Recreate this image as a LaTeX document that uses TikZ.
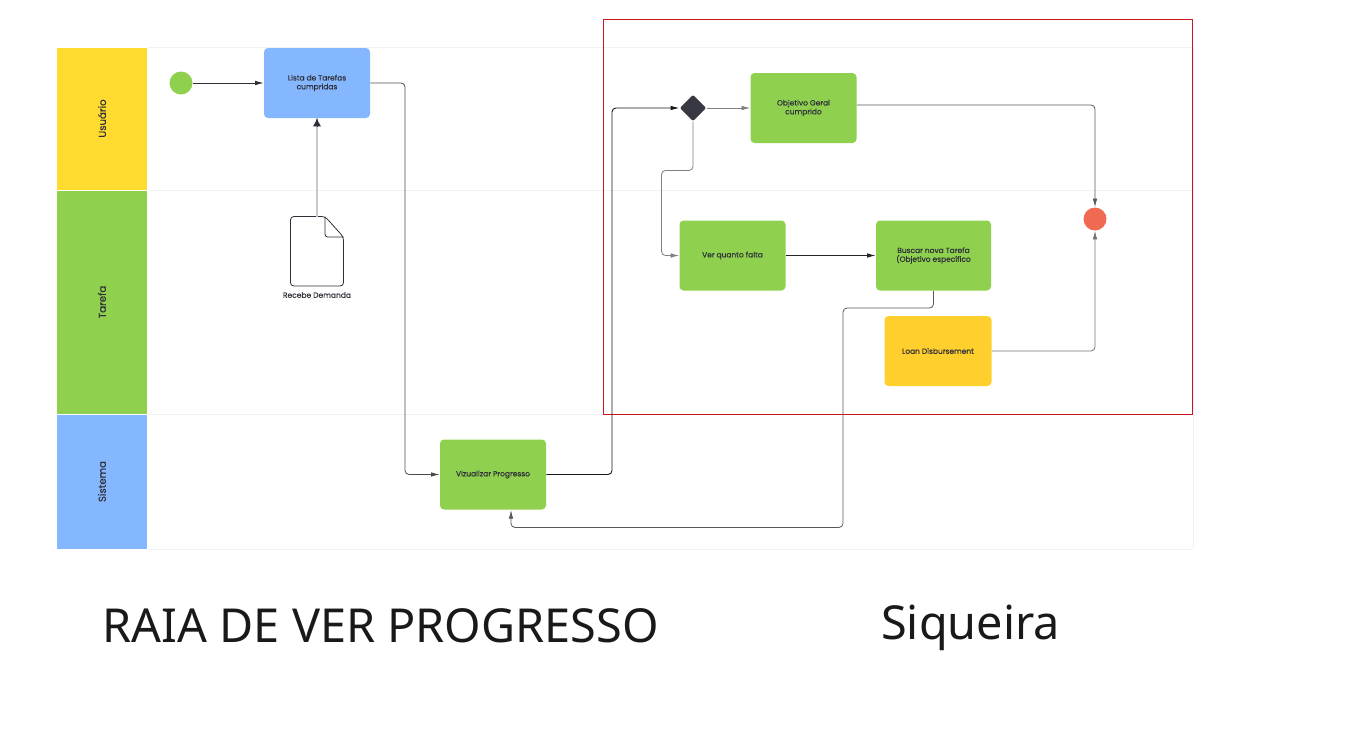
\documentclass[tikz,border=0pt]{standalone}
\usepackage{fontspec}
\setmainfont{Poppins}[FakeBold=0.25]
\newfontfamily\titlefont{Noto Sans}
\usetikzlibrary{arrows.meta,positioning,shapes.geometric,calc}
\definecolor{leaf}{HTML}{8FD14F}
\definecolor{sky}{HTML}{85B7FF}
\definecolor{sun}{HTML}{FFDA2F}
\definecolor{amber}{HTML}{FFCF2E}
\definecolor{coral}{HTML}{F06A52}
\definecolor{ink}{HTML}{2E2E38}
\definecolor{frame}{HTML}{C8161D}
\definecolor{rule}{HTML}{F2F2F2}
\definecolor{pale}{HTML}{C8C8C8}
\tikzset{
  box/.style={rounded corners=3pt,minimum width=#1*0.75pt,minimum height=52.5pt,inner sep=0pt,align=center,
    font=\fontsize{5.6}{6.6}\selectfont,text=ink},
  lane/.style={minimum width=68pt,inner sep=0pt,font=\fontsize{7.6}{8}\selectfont,text=ink,draw=white,line width=.3pt},
  flow/.style={-{Latex[length=6.5pt,width=3.4pt]},rounded corners=3pt,line width=.6pt,draw=#1},
  flow/.default={ink}
}
\begin{document}
\begin{tikzpicture}[x=0.75pt,y=-0.75pt]
\useasboundingbox (0,0) rectangle (1365,732);
% lanes
\draw[rule] (147,47) -- (1193,47) (147,190) -- (1193,190) (147,414.5) -- (1193,414.5) (147,549) -- (1193,549) (1193,47) -- (1193,549);
\node[lane,fill=sun,minimum height=107.25pt] (usuario) at (102,118.5) {\rotatebox{90}{Usuário}};
\node[lane,fill=leaf,minimum height=168pt] (tarefa) at (102,302) {\rotatebox{90}{Tarefa}};
\node[lane,fill=sky,minimum height=101.25pt] (sistema) at (102,481.5) {\rotatebox{90}{Sistema}};
\draw[frame,line width=.7pt] (603.5,19) rectangle (1192.5,414.5);
% nodes
\node[circle,fill=leaf,minimum size=17.25pt,inner sep=0pt] (inicio) at (181,83) {};
\node[box=106,fill=sky] (lista) at (317,83) {Lista de Tarefas\\cumpridas};
\node[box=106,fill=leaf] (vizualizar) at (493,474.5) {Vizualizar Progresso};
\node[diamond,fill=ink!95,minimum size=20pt,inner sep=0pt,rounded corners=1.5pt] (decisao) at (693,108) {};
\node[box=106,fill=leaf] (objetivo) at (803.5,108) {Objetivo Geral\\cumprido};
\node[box=106,fill=leaf] (ver) at (732.5,255.5) {Ver quanto falta};
\node[box=115,fill=leaf] (buscar) at (933.5,255.5) {Buscar nova Tarefa\\(Objetivo específico};
\node[box=107,fill=amber] (loan) at (938,351) {Loan Disbursement};
\node[circle,fill=coral,minimum size=17.25pt,inner sep=0pt] (fim) at (1095,219) {};
% document
\coordinate (doc) at (317,216.5);
\draw[ink,line width=.6pt,rounded corners=2.5pt] (325,216.5) -- (290.5,216.5) -- (290.5,286) -- (343.5,286) -- (343.5,237) -- cycle;
\draw[ink,line width=.6pt,rounded corners=2pt] (325,216.5) -- (325,237) -- (343.5,237);
\node[font=\fontsize{5.65}{7}\selectfont,text=ink] (demanda) at (317,295) {Recebe Demanda};
% flows
\draw[flow] (inicio) -- (lista);
\draw[pale,line width=.8pt] (doc) -- (lista.south);
\draw[flow=ink,-{Latex[length=6pt,width=6pt]}] ($(lista.south)+(0,8)$) -- (lista.south);
\draw[flow=black!70] (lista.east) -- (405,83) -- (405,474.5) -- (vizualizar.west);
\draw[flow=black!90,line width=.7pt] (vizualizar.east) -- (612,474.5) -- (612,108) -- (decisao.west);
\draw[flow=black!50] (decisao) -- (objetivo);
\draw[flow=black!50] (decisao.south) -- (693,170.5) -- (661.5,170.5) -- (661.5,255.5) -- (ver.west);
\draw[flow=black!85] (ver) -- (buscar);
\draw[flow=black!65] (buscar.south) -- (933.5,308) -- (843,308) -- (843,527.5) -- (511,527.5) -- (511,510);
\draw[flow=black!65] (objetivo.east |- 0,105) -- (1095,105) -- (fim.north);
\draw[flow=black!55] (loan.east) -- (1095,351) -- (fim.south);
% titles
\node[anchor=base west,inner sep=0pt,font=\titlefont\fontsize{35.1}{40}\selectfont,text=black!90] (raia) at (102.5,642) {RAIA DE VER PROGRESSO};
\node[anchor=base west,inner sep=0pt,font=\titlefont\fontsize{35.1}{40}\selectfont,text=black!90] (siqueira) at (881,639) {Siqueira};
\end{tikzpicture}
\end{document}
